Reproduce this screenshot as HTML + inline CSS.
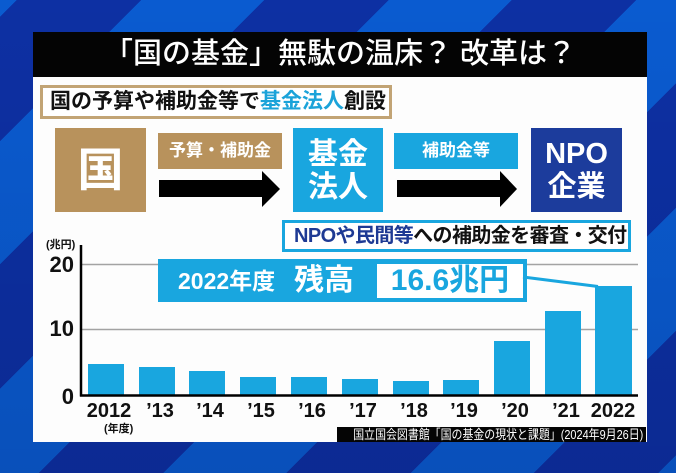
<!DOCTYPE html>
<html lang="ja">
<head>
<meta charset="utf-8">
<style>
  html,body{margin:0;padding:0;}
  body{
    width:676px;height:473px;overflow:hidden;position:relative;
    font-family:"Liberation Sans","Noto Sans CJK JP",sans-serif;
    background:
      linear-gradient(to bottom, rgba(0,0,30,0) 0%, rgba(0,0,30,0.12) 100%),
      repeating-linear-gradient(135deg,#0a5bd0 0px,#0a5bd0 12px,#0d30a3 12px,#0d30a3 100px,#0a5bd0 100px,#0a5bd0 175px);
  }
  .abs{position:absolute;white-space:nowrap;}
  .c{display:flex;align-items:center;justify-content:center;}
  .panel{left:33px;top:32px;width:614px;height:410px;background:#fdfdfd;}
  .titlebar{left:33px;top:32px;width:614px;height:45px;background:#040404;color:#fff;
    font-size:29px;font-weight:500;line-height:45px;text-align:center;}
  .sub{left:40px;top:85px;width:346px;height:28px;border:3px solid #c2a475;background:#fff;
    font-size:21px;font-weight:bold;line-height:28px;color:#111;padding-left:0;}
  .gold{background:#b8925c;}
  .lb{background:#19a6df;}
  .navy{background:#1c3c9c;}
  .big{color:#fff;font-weight:bold;text-align:center;}
  .lbl{color:#fff;font-weight:bold;font-size:17px;}
  .npo{left:282px;top:220px;width:343px;height:26px;border:3px solid #19a6df;background:#fff;
    font-size:20px;font-weight:bold;line-height:26px;letter-spacing:-0.6px;color:#111;}
  .ylab{left:36px;width:38px;text-align:right;font-size:22px;font-weight:bold;color:#111;height:26px;line-height:26px;}
  .xlab{width:60px;text-align:center;font-size:20px;font-weight:bold;color:#111;height:24px;line-height:24px;top:399px;}
</style>
</head>
<body>
<div class="abs panel"></div>
<div class="abs titlebar">「国の基金」無駄の温床？ 改革は？</div>

<div class="abs sub"><span style="margin-left:7px">国の予算や補助金等で<span style="color:#1ba3d9">基金法人</span>創設</span></div>

<!-- flow boxes -->
<div class="abs gold c big" style="left:55px;top:128px;width:91px;height:84px;font-size:46px;line-height:84px;">国</div>
<div class="abs gold c lbl" style="left:158px;top:133px;width:124px;height:36px;line-height:36px;">予算・補助金</div>
<div class="abs lb big" style="left:293px;top:128px;width:90px;height:84px;font-size:30px;line-height:33px;">
  <div style="margin-top:10px">基金</div><div>法人</div>
</div>
<div class="abs lb c lbl" style="left:394px;top:133px;width:124px;height:36px;line-height:36px;">補助金等</div>
<div class="abs navy big" style="left:531px;top:128px;width:91px;height:84px;font-size:29px;line-height:33px;">
  <div style="margin-top:10px">NPO</div><div>企業</div>
</div>

<svg class="abs" style="left:0;top:0" width="676" height="473" viewBox="0 0 676 473">
  <!-- arrows -->
  <polygon points="159,180 262,180 262,171 280,189 262,207 262,197 159,197" fill="#000"/>
  <polygon points="397,180 500,180 500,171 517,189 500,207 500,197 397,197" fill="#000"/>
  <!-- gridlines -->
  <line x1="82" y1="264.5" x2="638" y2="264.5" stroke="#a3a3a3" stroke-width="1.5"/>
  <line x1="82" y1="329.5" x2="638" y2="329.5" stroke="#a3a3a3" stroke-width="1.5"/>
  <!-- bars -->
  <g fill="#19a6df">
    <rect x="88" y="364" width="36" height="31"/>
    <rect x="139" y="367" width="36" height="28"/>
    <rect x="189" y="371" width="36" height="24"/>
    <rect x="240" y="377" width="36" height="18"/>
    <rect x="291" y="377" width="36" height="18"/>
    <rect x="342" y="379" width="36" height="16"/>
    <rect x="393" y="381" width="36" height="14"/>
    <rect x="443" y="380" width="36" height="15"/>
    <rect x="494" y="341" width="36" height="54"/>
    <rect x="545" y="311" width="36" height="84"/>
    <rect x="595" y="286" width="37" height="109"/>
  </g>
  <!-- axes -->
  <line x1="81" y1="245" x2="81" y2="396.5" stroke="#000" stroke-width="2.5"/>
  <line x1="80" y1="395.5" x2="638" y2="395.5" stroke="#000" stroke-width="2.5"/>
  <!-- banner -->
  <rect x="158" y="259" width="369" height="43" fill="#19a6df"/>
  <rect x="377" y="264" width="146" height="34" fill="#fff"/>
  <line x1="523" y1="277" x2="598" y2="286.5" stroke="#19a6df" stroke-width="3"/>
</svg>

<div class="abs npo"><span style="margin-left:9px"><span style="color:#1e3a94">NPOや民間等</span>への補助金を審査・交付</span></div>

<!-- banner text -->
<div class="abs" style="left:178px;top:266px;height:30px;line-height:30px;font-size:23px;font-weight:bold;color:#fff;">2022年度</div>
<div class="abs" style="left:294px;top:263px;height:36px;line-height:36px;font-size:30px;font-weight:bold;color:#fff;">残高</div>
<div class="abs" style="left:377px;top:264px;width:146px;height:34px;line-height:34px;font-size:30px;font-weight:bold;color:#19a6df;text-align:center;">16.6兆円</div>

<!-- y axis labels -->
<div class="abs" style="left:46px;top:238px;font-size:11px;font-weight:bold;color:#111;line-height:14px;">(兆円)</div>
<div class="abs ylab" style="top:252px;">20</div>
<div class="abs ylab" style="top:316px;">10</div>
<div class="abs ylab" style="top:384px;">0</div>

<!-- x labels -->
<div class="abs xlab" style="left:79px;">2012</div>
<div class="abs xlab" style="left:130px;">’13</div>
<div class="abs xlab" style="left:180px;">’14</div>
<div class="abs xlab" style="left:231px;">’15</div>
<div class="abs xlab" style="left:282px;">’16</div>
<div class="abs xlab" style="left:333px;">’17</div>
<div class="abs xlab" style="left:384px;">’18</div>
<div class="abs xlab" style="left:434px;">’19</div>
<div class="abs xlab" style="left:485px;">’20</div>
<div class="abs xlab" style="left:536px;">’21</div>
<div class="abs xlab" style="left:583px;">2022</div>
<div class="abs" style="left:104px;top:422px;font-size:11px;font-weight:bold;color:#111;line-height:14px;">(年度)</div>

<!-- caption -->
<div class="abs" style="left:337px;top:427px;width:309px;height:15px;background:#050505;overflow:hidden;">
  <div style="position:absolute;right:3px;top:0;height:15px;line-height:15px;font-size:13px;color:#fff;white-space:nowrap;transform:scaleX(0.84);transform-origin:right center;">国立国会図書館「国の基金の現状と課題」(2024年9月26日)</div>
</div>
</body>
</html>
